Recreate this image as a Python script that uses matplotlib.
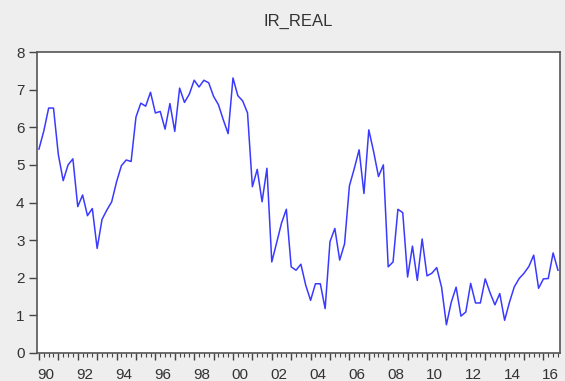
import numpy as np
import matplotlib
matplotlib.use("Agg")
import matplotlib.pyplot as plt
from matplotlib.ticker import MultipleLocator

plt.rcParams["font.family"] = ["Liberation Sans", "DejaVu Sans"]

# quarterly series, 1990Q1 - 2016Q4
START_YEAR = 1990
ir_real = [
    5.42, 5.90, 6.51, 6.51, 5.27, 4.58, 5.00, 5.16,   # 90-91
    3.89, 4.20, 3.65, 3.84, 2.78, 3.55, 3.80, 4.02,   # 92-93
    4.55, 4.98, 5.13, 5.09, 6.27, 6.64, 6.56, 6.93,   # 94-95
    6.38, 6.42, 5.95, 6.63, 5.89, 7.04, 6.66, 6.88,   # 96-97
    7.25, 7.07, 7.25, 7.18, 6.82, 6.60, 6.20, 5.83,   # 98-99
    7.31, 6.84, 6.70, 6.38, 4.42, 4.88, 4.02, 4.91,   # 00-01
    2.42, 2.93, 3.45, 3.82, 2.29, 2.20, 2.36, 1.80,   # 02-03
    1.40, 1.84, 1.84, 1.18, 2.96, 3.31, 2.47, 2.90,   # 04-05
    4.44, 4.90, 5.40, 4.24, 5.93, 5.35, 4.69, 5.00,   # 06-07
    2.29, 2.42, 3.82, 3.73, 2.02, 2.84, 1.93, 3.03,   # 08-09
    2.05, 2.12, 2.27, 1.75, 0.75, 1.35, 1.75, 0.98,   # 10-11
    1.09, 1.85, 1.33, 1.33, 1.97, 1.60, 1.28, 1.58,   # 12-13
    0.87, 1.35, 1.76, 1.98, 2.12, 2.30, 2.60, 1.72,   # 14-15
    1.97, 1.98, 2.66, 2.20,                           # 16
]
label_years = list(range(1990, 2017, 2))
tick_labels = ["%02d" % (y % 100) for y in label_years]

t = START_YEAR + np.arange(len(ir_real)) / 4.0

fig = plt.figure(figsize=(5.65, 3.81), dpi=100, facecolor="#eeeeee")
ax = fig.add_axes([0.0655, 0.0735, 0.9255, 0.79])
ax.set_facecolor("white")

ax.plot(t, ir_real, color="#3a3aff", lw=1.1)

ax.set_xlim(START_YEAR - 0.1, START_YEAR + 26.85)
ax.set_ylim(0, 8)
ax.set_yticks(range(0, 9))

# year ticks long, quarter ticks short, labels centred on the year
ax.xaxis.set_major_locator(MultipleLocator(1))
ax.xaxis.set_minor_locator(MultipleLocator(0.25))
ax.tick_params(axis="x", which="major", length=5, width=1, labelbottom=False,
               color="#444444")
ax.tick_params(axis="x", which="minor", length=3, width=0.8, color="#444444")
ax.tick_params(axis="y", length=6, width=1, pad=3, labelsize=11,
               color="#444444", labelcolor="#333333")

sec = ax.secondary_xaxis("bottom")
sec.set_xticks([y + 0.375 for y in label_years], tick_labels)
sec.tick_params(length=0, pad=11, labelsize=11, labelcolor="#333333")
sec.spines["bottom"].set_visible(False)

for s in ax.spines.values():
    s.set_color("#555555")
    s.set_linewidth(1.2)

fig.text(0.527, 0.945, "IR_REAL", ha="center", va="center", fontsize=12,
         color="#333333")

fig.savefig("out.png", dpi=100, facecolor=fig.get_facecolor())
